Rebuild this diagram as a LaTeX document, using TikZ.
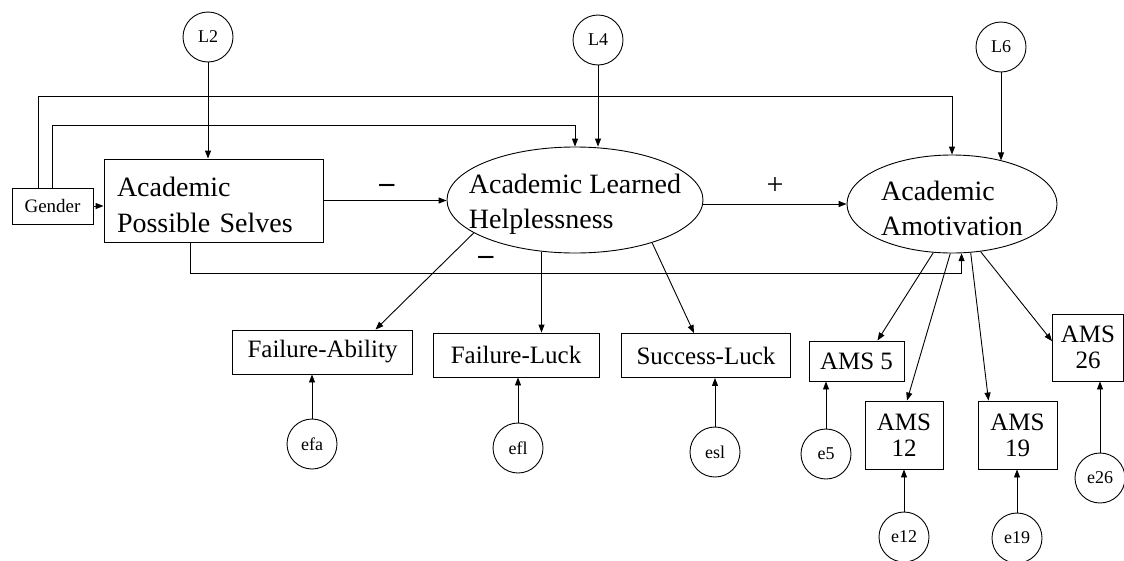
\documentclass[tikz,border=0pt]{standalone}
\usepackage{fontspec}
\setmainfont{Liberation Serif}
\usetikzlibrary{shapes.geometric,arrows.meta}

\begin{document}
\begin{tikzpicture}[
	x=1pt, y=-1pt,
	line width=0.9pt,
	>={Triangle[length=8pt,width=6pt]},
	latent/.style={ ellipse, draw, inner xsep=-30pt, inner ysep=0pt, align=left, text height=63pt, font=\fontsize{28}{35}\selectfont },
	bigbox/.style={ rectangle, draw, align=left, text width=193pt, inner xsep=13pt, minimum height=83pt, text height=28pt, font=\fontsize{28}{36}\selectfont },
	ind/.style={ rectangle, draw, inner xsep=15pt, minimum height=44pt, font=\fontsize{25}{30}\selectfont },
	amsbox/.style={ rectangle, draw, align=center, inner sep=0pt, font=\fontsize{25}{26}\selectfont },
	err/.style={ circle, draw, inner sep=0pt, minimum size=50pt, font=\fontsize{18}{20}\selectfont },
	signtxt/.style={ inner sep=0pt, font=\fontsize{30}{30}\selectfont }
]
\useasboundingbox (0,0) rectangle (1124,560);

\node at (208,37) (l2) [err] {L2};
\node at (598,40) (l4) [err] {L4};
\node at (1001,47) (l6) [err] {L6};

\node at (52.5,206) (gender) [rectangle, draw, minimum width=81pt, minimum height=36pt, inner sep=0pt, font=\fontsize{19}{20}\selectfont] {Gender};
\node at (213.5,200.5) (aps) [bigbox] {Academic\\Possible Selves};
\node at (575,200) (alh) [latent, minimum width=256pt, minimum height=106pt] {Academic Learned\\Helplessness};
\node at (952,204) (am) [latent, minimum width=210pt, minimum height=98pt] {Academic\\Amotivation};

\node at (387,188) (neg1) [signtxt] {\textbf{--}};
\node at (775,186) (pos) [signtxt] {+};
\node at (486,260) (neg2) [signtxt] {\textbf{--}};

\node at (322.5,352) (fa) [ind] {Failure-Ability};
\node at (516,355) (fl) [ind, minimum width=166pt] {Failure-Luck};
\node at (706,355.5) (sl) [ind] {Success-Luck};

\node at (856.5,361) (ams5) [amsbox, minimum width=95pt, minimum height=40pt] {AMS 5};
\node at (904,435) (ams12) [amsbox, minimum width=78pt, minimum height=68pt] {AMS\\12};
\node at (1017.5,435) (ams19) [amsbox, minimum width=79pt, minimum height=68pt] {AMS\\19};
\node at (1088,347.5) (ams26) [amsbox, minimum width=71pt, minimum height=67pt] {AMS\\26};

\node at (312,444) (efa) [err] {efa};
\node at (518,448) (efl) [err] {efl};
\node at (715,452) (esl) [err] {esl};
\node at (826,454) (e5) [err] {e5};
\node at (904,537) (e12) [err] {e12};
\node at (1017,538) (e19) [err] {e19};
\node at (1100,478) (e26) [err] {e26};

\coordinate (top1) at (0,96);
\coordinate (top2) at (0,125);
\coordinate (bot) at (0,273);

% residuals of the latents
\draw[->] (l2) -- (l2 |- aps.north);
\draw[->] (l4) -- (l4 |- alh.north);
\draw[->] (l6) -- (l6 |- am.41);

% structural paths
\draw[->] (gender.east) -- (gender.east -| aps.west);
\draw[->] ([xshift=-14pt]gender.north) |- (top1 -| am.north) -- (am.north);
\draw[->] (gender.north) |- (top2 -| alh.north) -- (alh.north);
\draw[->] (aps.east) -- (aps.east -| alh.west);
\draw[->] (alh.east |- am.west) -- (am.west);
\draw[->] ([xshift=-23pt]aps.south) |- (bot -| am.281) -- (am.281);

% loadings
\draw[->] (alh.198) -- ([xshift=53pt]fa.north);
\draw[->] (alh.237) -- (alh.237 |- fl.north);
\draw[->] (alh.331) -- ([xshift=-12pt]sl.north);
\draw[->] (am.249) -- ([xshift=21pt]ams5.north);
\draw[->] (am.268) -- ([xshift=3pt]ams12.north);
\draw[->] (am.291) -- ([xshift=-29pt]ams19.north);
\draw[->] (am.301) -- (ams26.170);

\foreach \e/\v in {efa/fa, efl/fl, esl/sl, e5/ams5, e12/ams12, e19/ams19, e26/ams26} \draw[->] (\e) to (\e |- \v.south);

\end{tikzpicture}
\end{document}
